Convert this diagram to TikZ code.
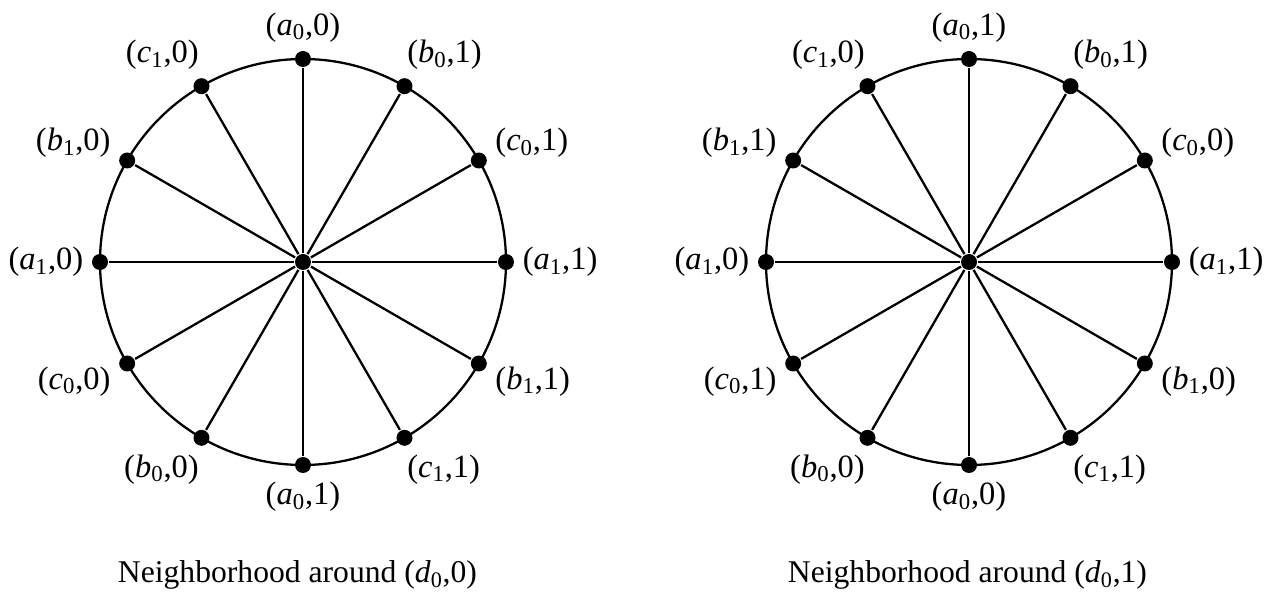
\documentclass[tikz,border=0pt]{standalone}
\usepackage{fontspec}
\setmainfont{Liberation Serif}
\usetikzlibrary{positioning}

\newcommand{\vx}[3]{(\textit{#1}\textsubscript{#2},#3)}
\tikzset{
  vtx/.style={circle, fill=black, inner sep=0pt, minimum size=0.32cm},
  lbl/.style={inner sep=0pt, label distance=0.13cm},
}

\begin{document}
\begin{tikzpicture}[line width=1.3pt, font=\fontsize{18.5}{22}\selectfont]
  \useasboundingbox (-6.06,-6.6) rectangle (19.22,5.24);

  % Neighborhood of (d0,0)
  \node[vtx] (CL) at (0,0) {};
  \draw (CL.center) circle (4.06cm);
  \foreach \ang/\lang/\lab [count=\i] in {90/90/{\vx{a}{0}{0}},
      60/84/{\vx{b}{0}{1}}, 30/7/{\vx{c}{0}{1}}, 0/0/{\vx{a}{1}{1}},
      -30/-7/{\vx{b}{1}{1}}, -60/-84/{\vx{c}{1}{1}}, -90/-90/{\vx{a}{0}{1}},
      -120/-96/{\vx{b}{0}{0}}, -150/-173/{\vx{c}{0}{0}},
      180/180/{\vx{a}{1}{0}}, 150/173/{\vx{b}{1}{0}}, 120/96/{\vx{c}{1}{0}}}
  {
    \node[vtx, label={[lbl]\lang:{\lab}}] (L\i) at ([shift={(\ang:4.06)}]CL) {};
    \draw (CL) -- (L\i);
  }
  \node[anchor=base, font=\fontsize{18}{22}\selectfont] (capL) at (-0.11,-6.42)
    {Neighborhood around \vx{d}{0}{0}};

  % Neighborhood of (d0,1)
  \node[vtx] (CR) at (13.32,0) {};
  \draw (CR.center) circle (4.06cm);
  \foreach \ang/\lang/\lab [count=\i] in {90/90/{\vx{a}{0}{1}},
      60/84/{\vx{b}{0}{1}}, 30/7/{\vx{c}{0}{0}}, 0/0/{\vx{a}{1}{1}},
      -30/-7/{\vx{b}{1}{0}}, -60/-84/{\vx{c}{1}{1}}, -90/-90/{\vx{a}{0}{0}},
      -120/-96/{\vx{b}{0}{0}}, -150/-173/{\vx{c}{0}{1}},
      180/180/{\vx{a}{1}{0}}, 150/173/{\vx{b}{1}{1}}, 120/96/{\vx{c}{1}{0}}}
  {
    \node[vtx, label={[lbl]\lang:{\lab}}] (R\i) at ([shift={(\ang:4.06)}]CR) {};
    \draw (CR) -- (R\i);
  }
  \node[anchor=base, font=\fontsize{18}{22}\selectfont] (capR) at (13.29,-6.42)
    {Neighborhood around \vx{d}{0}{1}};
\end{tikzpicture}
\end{document}
